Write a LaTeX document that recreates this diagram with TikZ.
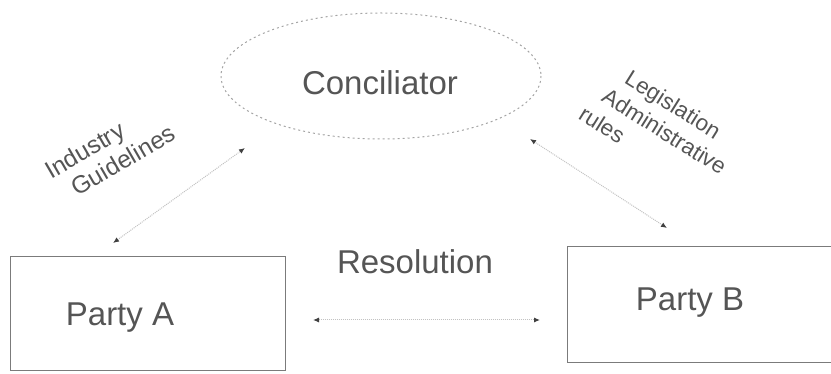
\documentclass[tikz,border=0pt]{standalone}
\usepackage{fontspec}
\setmainfont{Liberation Sans}
\usetikzlibrary{arrows.meta}
\definecolor{txt}{HTML}{555555}
\definecolor{ln}{HTML}{9A9A9A}
\begin{document}
\tikzset{
  partybox/.style={draw=ln!80!black, line width=0.9pt},
  link/.style={draw=ln!60, line width=1pt, densely dotted,
     {Latex[length=6pt,width=5pt,color=black!75]}-{Latex[length=6pt,width=5pt,color=black!75]}},
  bigtext/.style={text=txt, font=\fontsize{33}{38}\selectfont},
  sidetext/.style={text=txt, inner sep=0pt, align=left},
}
\begin{tikzpicture}[x=1pt,y=-1pt]
\useasboundingbox (0,0) rectangle (831,374);
% conciliator ellipse
\draw[ln!90, line width=1pt, dash pattern=on 2pt off 3pt] (381,76) ellipse [x radius=160, y radius=63];
\node[bigtext] (conc) at (380,83) {Conciliator};
% party boxes
\node[partybox, minimum width=275pt, minimum height=114pt] (pa) at (147.5,313) {};
\node[bigtext] (palabel) at (120,318) {Party A};
\node[partybox, minimum width=280pt, minimum height=116pt] (pb) at (707,304) {};
\node[bigtext] (pblabel) at (690,303) {Party B};
\node[bigtext] (res) at (415,262) {Resolution};
% connector ends
\coordinate (a1) at (113,243);
\coordinate (a2) at (245,148);
\coordinate (b1) at (667,228);
\coordinate (b2) at (530,139);
\coordinate (r1) at (313,320);
\coordinate (r2) at (540,320);
\draw[link] (a1) -- (a2);
\draw[link] (b1) -- (b2);
\draw[link] (r1) -- (r2);
% side labels
\node[sidetext, font=\fontsize{24.5}{28}\selectfont, rotate=30, anchor=north west] (ig) at (42,164)
  {Industry\\\hspace*{14pt}Guidelines};
\node[sidetext, font=\fontsize{22.5}{27.5}\selectfont, rotate=-32, anchor=north west] (lar) at (615,58)
  {\hspace*{20pt}Legislation\\\hspace*{10pt}Administrative\\rules};
\end{tikzpicture}
\end{document}
